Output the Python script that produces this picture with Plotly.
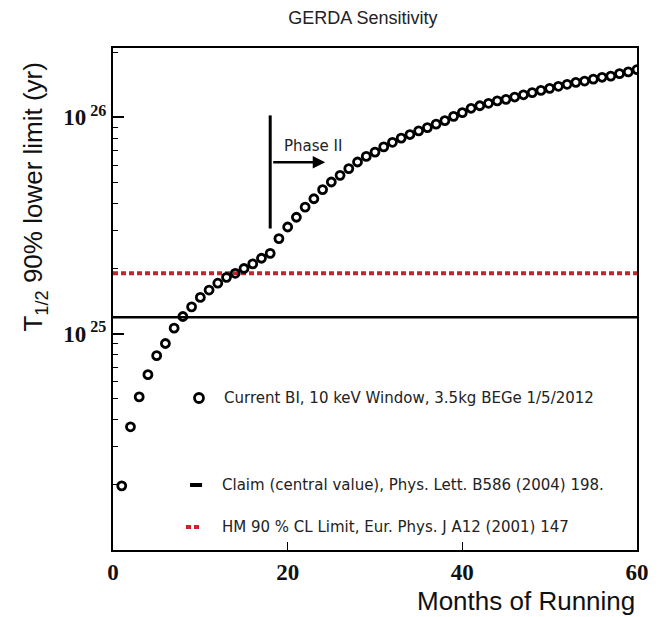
import math
import plotly.graph_objects as go

# ---- data ----
months = list(range(1, 61))
t_half_limit = [
    1.98e24, 3.71e24, 5.10e24, 6.46e24, 7.91e24, 9.00e24, 1.06e25, 1.20e25, 1.33e25, 1.47e25,
    1.59e25, 1.71e25, 1.82e25, 1.90e25, 2.00e25, 2.10e25, 2.23e25, 2.35e25, 2.75e25, 3.11e25,
    3.45e25, 3.84e25, 4.20e25, 4.63e25, 5.02e25, 5.39e25, 5.79e25, 6.21e25, 6.59e25, 6.90e25,
    7.29e25, 7.66e25, 8.01e25, 8.32e25, 8.65e25, 8.96e25, 9.29e25, 9.64e25, 1.01e26, 1.05e26,
    1.10e26, 1.13e26, 1.16e26, 1.19e26, 1.21e26, 1.24e26, 1.27e26, 1.30e26, 1.33e26, 1.36e26,
    1.39e26, 1.42e26, 1.45e26, 1.47e26, 1.50e26, 1.53e26, 1.55e26, 1.59e26, 1.62e26, 1.66e26,
]
claim_value = 1.19e25
hm_limit_value = 1.9e25
x_span = [0, 60]

phase2_month = 18
phase2_bar = [3.06e25, 1.02e26]
phase2_arrow_y = 6.2e25
phase2_arrow_end = 24.3
phase2_label_pos = (22.9, 7.4e25)

x_ticks = [0, 20, 40, 60]
y_ticks = [1e25, 1e26]
y_ticktext = ["10<sup> 25</sup>", "10<sup> 26</sup>"]

legend_labels = [
    "Current BI, 10 keV Window, 3.5kg BEGe 1/5/2012",
    "Claim (central value), Phys. Lett. B586 (2004) 198.",
    "HM 90 % CL Limit, Eur. Phys. J A12 (2001) 147",
]

RED = "#c8232c"
LEG_FONT = dict(family="DejaVu Sans", size=15, color="#222")

fig = go.Figure()

fig.add_trace(go.Scatter(x=x_span, y=[claim_value] * 2, mode="lines",
                         line=dict(color="black", width=2.5), showlegend=False))
fig.add_trace(go.Scatter(x=x_span, y=[hm_limit_value] * 2, mode="lines",
                         line=dict(color=RED, width=4, dash="5px,3px"), showlegend=False))
fig.add_trace(go.Scatter(x=months, y=t_half_limit, mode="markers",
                         marker=dict(symbol="circle-open", size=8, color="black",
                                     line=dict(width=2.8, color="black")),
                         showlegend=False))
fig.add_trace(go.Scatter(x=[phase2_month] * 2, y=phase2_bar, mode="lines",
                         line=dict(color="black", width=3), showlegend=False))

fig.add_annotation(x=phase2_arrow_end, y=math.log10(phase2_arrow_y),
                   ax=phase2_month, ay=math.log10(phase2_arrow_y), axref="x", ayref="y",
                   xref="x", yref="y", text=" ", showarrow=True,
                   arrowhead=2, arrowsize=1, arrowwidth=2.5, arrowcolor="black")
fig.add_annotation(x=phase2_label_pos[0], y=math.log10(phase2_label_pos[1]), xref="x", yref="y",
                   text="Phase II", showarrow=False, font=LEG_FONT)

# legend (hand-placed, like the original)
leg_y = [0.3028, 0.1295, 0.0458]
leg_x = [0.208, 0.204, 0.204]
for lx, ly, lab in zip(leg_x, leg_y, legend_labels):
    fig.add_annotation(x=lx, y=ly, xref="paper", yref="paper", text=lab, showarrow=False,
                       xanchor="left", yanchor="middle", font=LEG_FONT)
fig.add_shape(type="circle", xref="paper", yref="paper", xsizemode="pixel", ysizemode="pixel",
              xanchor=0.1641, yanchor=leg_y[0], x0=-4.5, x1=4.5, y0=-4.5, y1=4.5,
              line=dict(color="black", width=2.8))
fig.add_shape(type="line", xref="paper", yref="paper", x0=0.147, x1=0.170,
              y0=leg_y[1], y1=leg_y[1], line=dict(color="black", width=4))
fig.add_shape(type="line", xref="paper", yref="paper", x0=0.1393, x1=0.166,
              y0=leg_y[2], y1=leg_y[2], line=dict(color=RED, width=4, dash="5px,3px"))

# axis titles
fig.add_annotation(x=-0.149, y=0.704, xref="paper", yref="paper", textangle=-90,
                   text="T<sub>1/2</sub> 90% lower limit (yr)", showarrow=False,
                   xanchor="center", yanchor="middle",
                   font=dict(family="Liberation Sans", size=26, color="#111"))
fig.add_annotation(x=1.0, y=-0.1016, xref="paper", yref="paper",
                   text="Months of Running", showarrow=False, xanchor="right", yanchor="middle",
                   font=dict(family="Liberation Sans", size=26, color="#111"))

fig.update_layout(
    width=661, height=617,
    margin=dict(l=113, r=24, t=48, b=67),
    paper_bgcolor="white", plot_bgcolor="white",
    title=dict(text="GERDA Sensitivity", x=0.549, y=0.972, xanchor="center", yanchor="middle",
               font=dict(family="Liberation Sans", size=18, color="#222")),
    showlegend=False,
)
fig.update_xaxes(range=[0, 60], tickvals=x_ticks, ticks="inside", ticklen=8, tickwidth=1.2,
                 tickcolor="black", showline=True, linecolor="black", linewidth=2, mirror=True,
                 showgrid=False, zeroline=False,
                 tickfont=dict(family="Liberation Serif", size=23, color="#111", weight="bold"))
fig.update_yaxes(type="log", range=[24, 26.32], tickvals=y_ticks, ticktext=y_ticktext,
                 ticks="inside", ticklen=11, tickwidth=1.5, tickcolor="black",
                 minor=dict(ticks="inside", ticklen=5, tickcolor="black", tickwidth=1,
                            dtick="D1", showgrid=False),
                 showline=True, linecolor="black", linewidth=2, mirror=True,
                 showgrid=False, zeroline=False,
                 tickfont=dict(family="Liberation Serif", size=23, color="#111", weight="bold"))

fig.write_html("out.html")
